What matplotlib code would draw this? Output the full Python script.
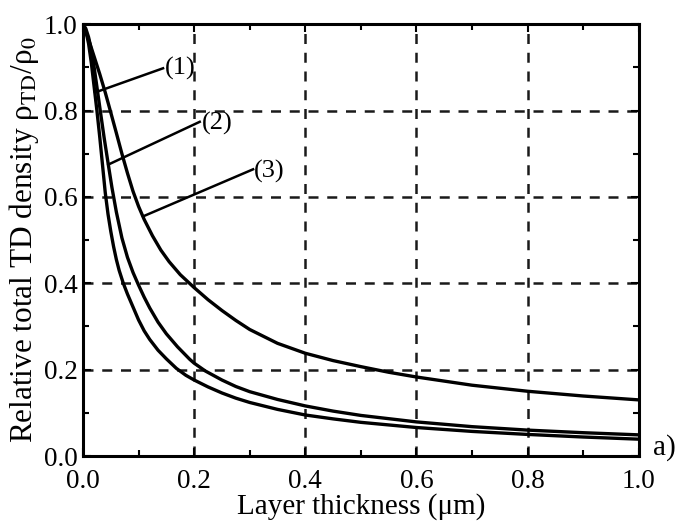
import numpy as np
import matplotlib.pyplot as plt
from matplotlib.ticker import MultipleLocator

plt.rcParams['font.family'] = ['Liberation Serif', 'DejaVu Serif']
plt.rcParams['mathtext.fontset'] = 'stix'

# curve (1) - lowest
x1 = [0, 0.005, 0.01, 0.015, 0.02, 0.025, 0.03, 0.035, 0.04, 0.045, 0.05, 0.055, 0.06, 0.065,
      0.0725, 0.08, 0.09, 0.1, 0.11, 0.12, 0.135, 0.15, 0.168, 0.185, 0.2, 0.225, 0.25, 0.275,
      0.3, 0.35, 0.4, 0.45, 0.5, 0.6, 0.7, 0.8, 0.9, 1.0]
y1 = [1.0, 0.985, 0.955, 0.91, 0.855, 0.80, 0.74, 0.675, 0.61, 0.56, 0.52, 0.485, 0.455, 0.43,
      0.40, 0.375, 0.345, 0.315, 0.29, 0.27, 0.245, 0.225, 0.203, 0.187, 0.176, 0.16, 0.146, 0.134,
      0.124, 0.108, 0.095, 0.086, 0.078, 0.066, 0.057, 0.050, 0.044, 0.039]

# curve (2)
x2 = [0, 0.005, 0.01, 0.015, 0.02, 0.025, 0.031, 0.038, 0.0455, 0.052, 0.06, 0.07, 0.08, 0.09,
      0.0995, 0.11, 0.12, 0.135, 0.15, 0.17, 0.192, 0.2, 0.22, 0.25, 0.275, 0.3, 0.35, 0.4, 0.45,
      0.5, 0.6, 0.7, 0.8, 0.9, 1.0]
y2 = [1.0, 0.99, 0.97, 0.94, 0.90, 0.855, 0.80, 0.737, 0.675, 0.622, 0.565, 0.505, 0.46, 0.425,
      0.397, 0.368, 0.343, 0.31, 0.283, 0.253, 0.224, 0.215, 0.197, 0.176, 0.161, 0.149, 0.131, 0.116, 0.104,
      0.094, 0.079, 0.068, 0.060, 0.054, 0.049]

# curve (3) - highest
x3 = [0, 0.01, 0.02, 0.03, 0.04, 0.049, 0.06, 0.07, 0.08, 0.09, 0.1, 0.11, 0.125, 0.14, 0.155,
      0.175, 0.2, 0.225, 0.25, 0.275, 0.3, 0.35, 0.4, 0.45, 0.5, 0.55, 0.6, 0.7, 0.8, 0.9, 1.0]
y3 = [1.0, 0.965, 0.925, 0.885, 0.842, 0.80, 0.748, 0.70, 0.655, 0.613, 0.578, 0.548, 0.51, 0.477, 0.45,
      0.42, 0.39, 0.362, 0.337, 0.314, 0.293, 0.261, 0.238, 0.221, 0.207, 0.194, 0.183, 0.164, 0.15, 0.139, 0.13]

# labels and leader lines: (start on curve) -> (end near text)
labels = ['(1)', '(2)', '(3)']
lead_start = [(0.0216, 0.842), (0.0455, 0.675), (0.108, 0.555)]
lead_end = [(0.144, 0.898), (0.21, 0.774), (0.306, 0.664)]
label_pos = [(0.148, 0.898), (0.214, 0.771), (0.308, 0.658)]

fig = plt.figure(figsize=(6.89, 5.27), dpi=100)
ax = fig.add_axes([0.1205, 0.1347, 0.8065, 0.8193])

for xs, ys in [(x1, y1), (x2, y2), (x3, y3)]:
    ax.plot(xs, ys, color='black', lw=2.4, zorder=3, solid_joinstyle='round')

for lab, s, e, p in zip(labels, lead_start, lead_end, label_pos):
    ax.plot([s[0], e[0]], [s[1], e[1]], color='black', lw=1.8, zorder=3)
    ax.text(p[0], p[1], lab, fontsize=19, ha='left', va='center')

ax.set_xlim(0, 1.0)
ax.set_ylim(0, 1.0)
ax.xaxis.set_major_locator(MultipleLocator(0.2))
ax.yaxis.set_major_locator(MultipleLocator(0.2))
ax.xaxis.set_minor_locator(MultipleLocator(0.1))
ax.yaxis.set_minor_locator(MultipleLocator(0.1))
ax.xaxis.set_major_formatter(plt.FormatStrFormatter('%.1f'))
ax.yaxis.set_major_formatter(plt.FormatStrFormatter('%.1f'))
ax.tick_params(which='both', direction='in', top=True, right=True, labelsize=19.5, width=1.5)
ax.tick_params(which='major', length=6)
ax.tick_params(which='minor', length=4)
ax.tick_params(axis='x', pad=9)
ax.tick_params(axis='y', pad=4)
for sp in ax.spines.values():
    sp.set_linewidth(2.2)

ax.grid(True, which='major', color='#1a1a1a', linestyle=(0, (4, 3.5)), lw=1.8)

ax.set_xlabel('Layer thickness (μm)', fontsize=21, labelpad=0)
ax.set_ylabel(r'Relative total TD density ρ$_{\rm TD}$/ρ$_0$', fontsize=22.5, labelpad=2)

ax.text(1.025, 0.02, 'a)', fontsize=21, ha='left', va='center', clip_on=False)

fig.savefig('out.png', dpi=100)
